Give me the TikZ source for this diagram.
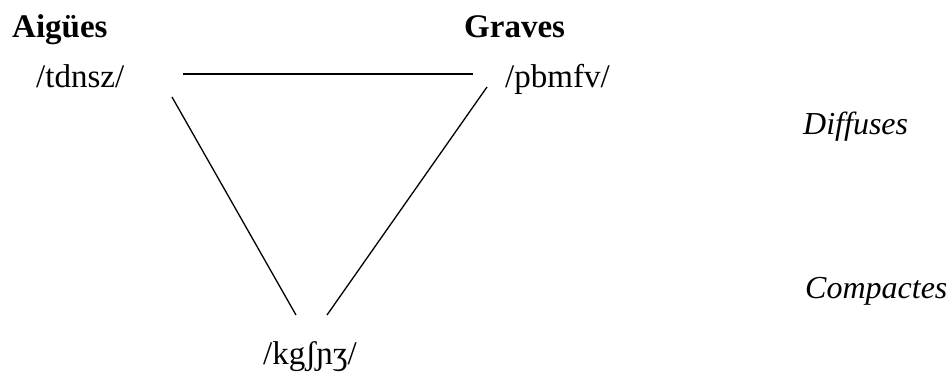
\documentclass[tikz,border=0pt]{standalone}
\usepackage{fontspec}
\setmainfont{Liberation Serif}
\begin{document}
\begin{tikzpicture}[x=1pt,y=-1pt,
  lbl/.style={inner sep=0pt, anchor=base west, font=\fontsize{33}{38}\selectfont},
  head/.style={lbl, font=\fontsize{33}{38}\selectfont\bfseries},
  side/.style={lbl, font=\fontsize{32}{38}\selectfont\itshape},
  edge/.style={line width=1.3pt, black}]
\useasboundingbox (0,0) rectangle (950,372);
\node[head] (aig) at (12,37) {Aigües};
\node[head] (grav) at (464,37) {Graves};
\node[lbl] (t) at (36,87) {/tdnsz/};
\node[lbl] (p) at (505,87) {/pbmfv/};
\node[lbl] (k) at (263,364) {/kgʃɲʒ/};
\node[side] (dif) at (803,134) {Diffuses};
\node[side] (comp) at (805,298) {Compactes};
\coordinate (tp1) at (183,74);
\coordinate (tp2) at (473,74);
\coordinate (tk1) at (172,97);
\coordinate (tk2) at (296,315);
\coordinate (pk1) at (487,87);
\coordinate (pk2) at (327,315);
\draw[edge] (tp1) -- (tp2);
\draw[edge] (tk1) -- (tk2);
\draw[edge] (pk1) -- (pk2);
\end{tikzpicture}
\end{document}
